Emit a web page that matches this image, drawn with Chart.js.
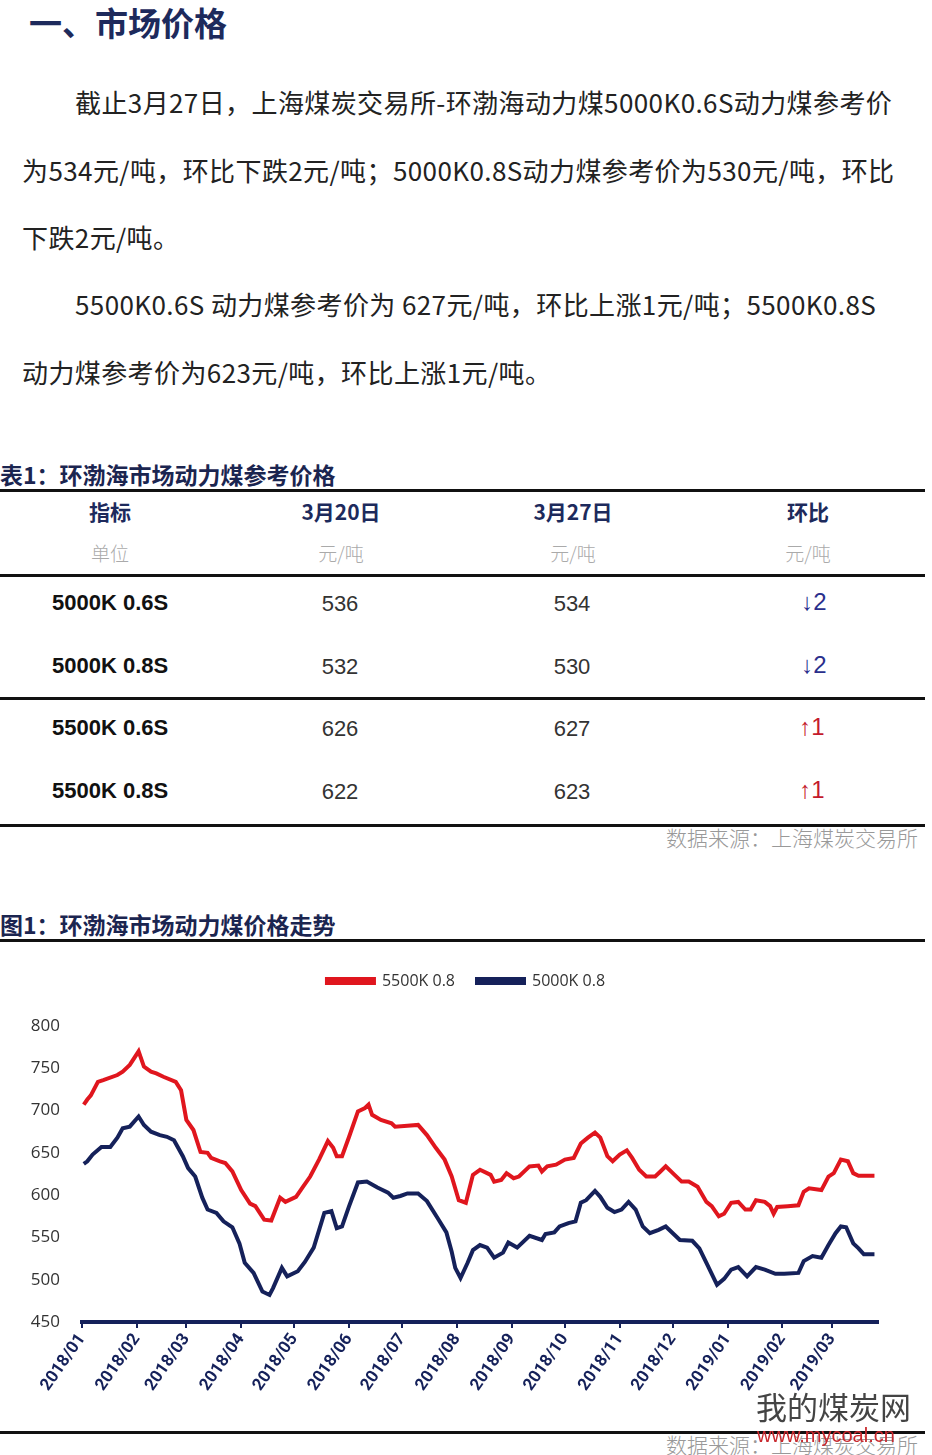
<!DOCTYPE html>
<html>
<head>
<meta charset="utf-8">
<script src="https://cdn.jsdelivr.net/npm/chart.js@4.4.1/dist/chart.umd.min.js"></script>
<style>
  body { margin: 0; background: #fff; width: 932px; height: 1455px; overflow: hidden; position: relative; font-family: "Noto Sans CJK SC", "Noto Sans", sans-serif; }
  .abs { position: absolute; white-space: nowrap; }
  .h1 { left: 29px; top: -2px; font-size: 33px; font-weight: 700; color: #1d2a5c; }
  .p { font-size: 26px; letter-spacing: 0.4px; color: #222; line-height: 34px; }
  .cap { font-size: 23px; font-weight: 700; color: #1b2550; left: 0; }
  .rule { position: absolute; left: 0; width: 925px; height: 3px; background: #111; }
  .th { font-size: 21px; font-weight: 700; color: #1d2a5c; transform: translateX(-50%); }
  .unit { font-size: 19px; font-weight: 300; color: #aaa; transform: translateX(-50%); }
  .rl { left: 52px; font-family: "Liberation Sans", Arial, sans-serif; font-weight: 700; font-size: 22px; color: #111; }
  .num { font-family: "Liberation Sans", Arial, sans-serif; font-size: 22px; color: #333; transform: translateX(-50%); }
  .arr { font-size: 24px; }
  .dn { color: #2a2f8c; }
  .up { color: #c41a2c; }
  .src { font-size: 21px; font-weight: 300; color: #999; right: 14px; }
  #wrap { position: absolute; left: 0; top: 950px; width: 932px; height: 460px; }
</style>
</head>
<body>
<div class="abs h1">一、市场价格</div>
<div class="abs p" style="left:75px;top:85px;">截止3月27日，上海煤炭交易所-环渤海动力煤5000K0.6S动力煤参考价</div>
<div class="abs p" style="left:22px;top:153px;">为534元/吨，环比下跌2元/吨；5000K0.8S动力煤参考价为530元/吨，环比</div>
<div class="abs p" style="left:22px;top:220px;">下跌2元/吨。</div>
<div class="abs p" style="left:75px;top:287px;">5500K0.6S 动力煤参考价为 627元/吨，环比上涨1元/吨；5500K0.8S</div>
<div class="abs p" style="left:22px;top:355px;">动力煤参考价为623元/吨，环比上涨1元/吨。</div>

<div class="abs cap" style="top:457px;">表1：环渤海市场动力煤参考价格</div>
<div class="rule" style="top:489px;"></div>
<div class="abs th" style="left:110px;top:496px;">指标</div>
<div class="abs th" style="left:341px;top:496px;">3月20日</div>
<div class="abs th" style="left:573px;top:496px;">3月27日</div>
<div class="abs th" style="left:808px;top:496px;">环比</div>
<div class="abs unit" style="left:110px;top:539px;">单位</div>
<div class="abs unit" style="left:341px;top:539px;">元/吨</div>
<div class="abs unit" style="left:573px;top:539px;">元/吨</div>
<div class="abs unit" style="left:808px;top:539px;">元/吨</div>
<div class="rule" style="top:574px;"></div>

<div class="abs rl" style="top:590px;">5000K 0.6S</div>
<div class="abs num" style="left:340px;top:591px;">536</div>
<div class="abs num" style="left:572px;top:591px;">534</div>
<div class="abs num arr dn" style="left:814px;top:588px;">↓2</div>

<div class="abs rl" style="top:653px;">5000K 0.8S</div>
<div class="abs num" style="left:340px;top:654px;">532</div>
<div class="abs num" style="left:572px;top:654px;">530</div>
<div class="abs num arr dn" style="left:814px;top:651px;">↓2</div>
<div class="rule" style="top:697px;"></div>

<div class="abs rl" style="top:715px;">5500K 0.6S</div>
<div class="abs num" style="left:340px;top:716px;">626</div>
<div class="abs num" style="left:572px;top:716px;">627</div>
<div class="abs num arr up" style="left:812px;top:713px;">↑1</div>

<div class="abs rl" style="top:778px;">5500K 0.8S</div>
<div class="abs num" style="left:340px;top:779px;">622</div>
<div class="abs num" style="left:572px;top:779px;">623</div>
<div class="abs num arr up" style="left:812px;top:776px;">↑1</div>
<div class="rule" style="top:824px;"></div>
<div class="abs src" style="top:822px;">数据来源：上海煤炭交易所</div>

<div class="abs cap" style="top:907px;">图1：环渤海市场动力煤价格走势</div>
<div class="rule" style="top:939px;"></div>

<div id="wrap"><canvas id="priceChart"></canvas></div>

<div class="rule" style="top:1431px;"></div>
<div class="abs src" style="top:1429px;">数据来源：上海煤炭交易所</div>
<div class="abs" style="left:756px;top:1383px;font-size:31px;color:#444;">我的煤炭网</div>
<div class="abs" style="left:757px;top:1424px;font-size:20px;color:#c8282d;font-family:'Liberation Sans',Arial,sans-serif;">www.mycoal.cn</div>

<script>
// x = days since 2018-01-01
const monthDays = [0, 31, 59, 90, 120, 151, 181, 212, 243, 273, 304, 334, 365, 396, 424];
const monthLabels = ['2018/01', '2018/02', '2018/03', '2018/04', '2018/05', '2018/06', '2018/07', '2018/08',
    '2018/09', '2018/10', '2018/11', '2018/12', '2019/01', '2019/02', '2019/03'];

const redDays = [1, 3, 5, 9, 12, 20, 23, 27, 32, 35, 39, 42, 46, 53, 56, 59, 63, 67, 71, 73, 78, 81, 85, 90, 95, 98,
    103, 107, 112, 115, 121, 125, 129, 134, 139, 142, 144, 147, 151, 156, 160, 162, 164, 169, 175, 177, 184, 190, 195,
    200, 205, 209, 213, 217, 221, 225, 231, 233, 237, 240, 244, 247, 253, 258, 260, 263, 268, 273, 278, 282, 286, 290,
    293, 297, 300, 304, 308, 311, 315, 319, 324, 327, 330, 335, 339, 343, 348, 353, 356, 360, 363, 367, 371, 375, 378,
    381, 386, 389, 391, 393, 399, 405, 408, 411, 418, 422, 425, 429, 433, 436, 439, 448];
const redPrices = [707, 713, 718, 734, 736, 742, 746, 754, 770, 752, 746, 744, 740, 734, 724, 689, 677, 651, 650, 644,
    640, 638, 628, 606, 590, 587, 571, 570, 597, 592, 598, 610, 622, 642, 664, 656, 646, 646, 669, 699, 703, 707, 695,
    689, 685, 681, 682, 683, 671, 656, 642, 622, 594, 591, 624, 630, 624, 616, 618, 626, 620, 622, 634, 635, 628, 634,
    636, 642, 644, 661, 668, 674, 668, 646, 640, 648, 653, 644, 630, 622, 622, 628, 634, 624, 616, 616, 610, 592, 587,
    575, 578, 591, 592, 583, 583, 594, 592, 587, 578, 586, 587, 588, 604, 608, 606, 622, 626, 642, 640, 626, 623, 623];

const blueDays = [1, 3, 6, 11, 16, 20, 23, 27, 32, 35, 39, 44, 48, 52, 57, 60, 64, 68, 71, 76, 80, 85, 89, 92, 97, 102,
    106, 108, 113, 116, 122, 126, 131, 137, 141, 144, 147, 151, 156, 161, 167, 173, 176, 180, 184, 190, 195, 201, 206,
    209, 211, 214, 218, 221, 225, 229, 233, 238, 241, 246, 253, 260, 262, 267, 270, 275, 279, 282, 285, 290, 293, 297,
    301, 305, 309, 313, 317, 321, 326, 330, 334, 338, 345, 349, 353, 359, 363, 367, 371, 376, 381, 386, 392, 397, 405,
    408, 413, 418, 422, 426, 429, 432, 436, 439, 442, 448];
const bluePrices = [637, 640, 648, 657, 657, 668, 679, 681, 693, 683, 675, 671, 669, 665, 646, 632, 622, 597, 583, 579,
    569, 562, 543, 520, 508, 486, 482, 490, 514, 504, 510, 521, 538, 579, 581, 561, 563, 587, 615, 616, 609, 603, 597,
    599, 602, 602, 593, 573, 556, 533, 514, 502, 520, 535, 541, 538, 526, 532, 544, 538, 552, 547, 554, 556, 563, 567,
    569, 591, 594, 605, 598, 585, 580, 583, 592, 583, 563, 555, 559, 563, 555, 547, 546, 537, 520, 494, 501, 512, 515,
    504, 515, 512, 507, 507, 508, 522, 528, 526, 541, 555, 563, 562, 543, 537, 530, 530];

const RED = '#e0161e';
const NAVY = '#15215a';

function toPoints(days, prices) {
    return days.map((d, i) => ({ x: d, y: prices[i] }));
}

// extra space under the legend
const legendGap = {
    id: 'legendGap',
    beforeInit(chart) {
        const fit = chart.legend.fit;
        chart.legend.fit = function () { fit.call(this); this.height += 27; };
    }
};

const ctx = document.getElementById('priceChart').getContext('2d');
new Chart(ctx, {
    type: 'line',
    data: {
        datasets: [
            { label: '5500K 0.8', data: toPoints(redDays, redPrices), borderColor: RED, backgroundColor: RED,
              borderWidth: 4, pointRadius: 0, tension: 0 },
            { label: '5000K 0.8', data: toPoints(blueDays, bluePrices), borderColor: NAVY, backgroundColor: NAVY,
              borderWidth: 4, pointRadius: 0, tension: 0 }
        ]
    },
    options: {
        responsive: true, maintainAspectRatio: false, animation: false,
        layout: { padding: { top: 1, right: 0, left: 0, bottom: 0 } },
        scales: {
            x: {
                type: 'linear', min: 0, max: 450,
                afterBuildTicks: axis => { axis.ticks = monthDays.map(v => ({ value: v })); },
                afterFit: scale => { scale.height = 88; },
                border: { color: NAVY, width: 4 },
                grid: { drawOnChartArea: false, drawTicks: true, tickLength: 6, color: NAVY, lineWidth: 2 },
                ticks: {
                    autoSkip: false, maxRotation: 55, minRotation: 55, padding: 2, color: NAVY,
                    font: { family: 'Roboto, "Liberation Sans", sans-serif', size: 17, weight: 'bold' },
                    callback: (v) => monthLabels[monthDays.indexOf(v)]
                }
            },
            y: {
                min: 450, max: 800,
                afterFit: scale => { scale.width = 82; },
                border: { display: false },
                grid: { display: false, drawTicks: false },
                ticks: { stepSize: 50, padding: 22, color: '#333', font: { family: '"Open Sans", sans-serif', size: 17 } }
            },
            yRight: {
                position: 'right',
                afterFit: scale => { scale.width = 54; },
                border: { display: false },
                grid: { display: false, drawTicks: false },
                ticks: { display: false }
            }
        },
        plugins: {
            legend: {
                position: 'top',
                labels: { boxWidth: 47, boxHeight: 4, padding: 22, color: '#333',
                          font: { family: '"Open Sans", sans-serif', size: 16 } }
            },
            tooltip: { enabled: false }
        }
    },
    plugins: [legendGap]
});
</script>
</body>
</html>
